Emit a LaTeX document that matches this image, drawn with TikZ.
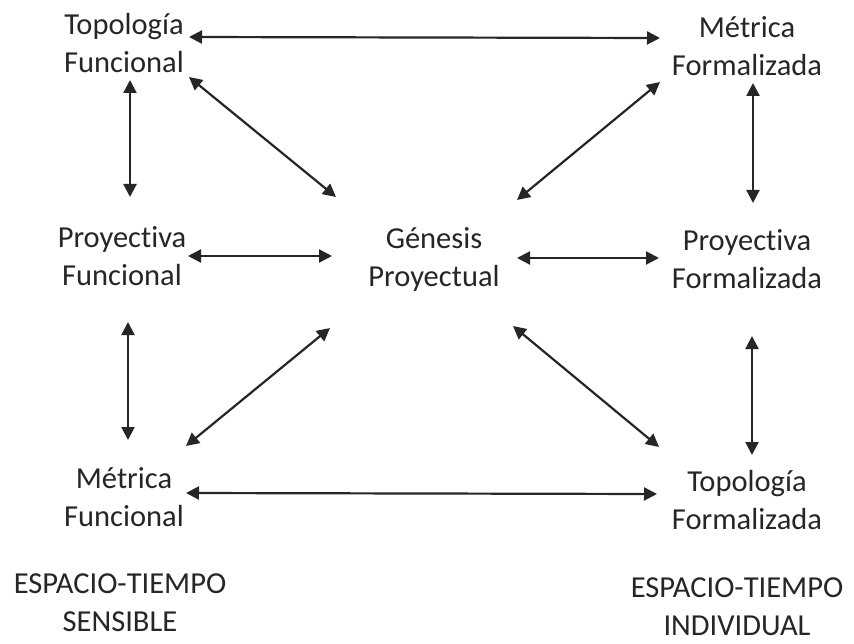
\documentclass[tikz,border=0pt]{standalone}
\usepackage{fontspec}
\setmainfont[Ligatures={NoCommon,NoRare,NoDiscretionary},Contextuals={NoAlternate}]{Carlito}
\usetikzlibrary{arrows.meta}
\definecolor{ink}{HTML}{262626}
\definecolor{txt}{HTML}{262626}
\tikzset{
  lbl/.style={align=center, inner sep=0pt, text=txt, font=\fontsize{30.5}{38}\selectfont},
  link/.style={draw=ink, line width=2.2pt, {Triangle[length=13pt,width=13pt]}-{Triangle[length=13pt,width=13pt]}}
}
\begin{document}
\begin{tikzpicture}[x=1pt,y=-1pt]
\useasboundingbox[fill=white] (0,0) rectangle (854,644);
\node[lbl] (tf)  at (124,43)  {Topología\\Funcional};
\node[lbl] (mfo) at (747,46)  {Métrica\\Formalizada};
\node[lbl] (pf)  at (122,256) {Proyec\kern0pt tiva\\Funcional};
\node[lbl] (gp)  at (434,259) {Génesis\\Proyec\kern0pt tual};
\node[lbl] (pfo) at (747,259) {Proyec\kern0pt tiva\\Formalizada};
\node[lbl] (mf)  at (124,497) {Métrica\\Funcional};
\node[lbl] (tfo) at (747,500) {Topología\\Formalizada};
\node[lbl] (es)  at (120,603) {ESPACIO-TIEMPO\\SENSIBLE};
\node[lbl] (ei)  at (737,607) {ESPACIO-TIEMPO\\INDIVIDUAL};
% arrow ends
\coordinate (a1) at (189,37);  \coordinate (b1) at (660,38);
\coordinate (a2) at (189,77);  \coordinate (b2) at (336,197);
\coordinate (a3) at (130,80);  \coordinate (b3) at (130,197);
\coordinate (a4) at (188,256); \coordinate (b4) at (332,256);
\coordinate (a5) at (660,82);  \coordinate (b5) at (517,200);
\coordinate (a6) at (753,83);  \coordinate (b6) at (753,203);
\coordinate (a7) at (517,258); \coordinate (b7) at (659,258);
\coordinate (a8) at (128,322); \coordinate (b8) at (128,440);
\coordinate (a9) at (186,446); \coordinate (b9) at (330,328);
\coordinate (a10) at (186,493); \coordinate (b10) at (657,494);
\coordinate (a11) at (513,326); \coordinate (b11) at (659,447);
\coordinate (a12) at (752,336); \coordinate (b12) at (752,455);
\foreach \i in {1,...,12} \draw[link] (a\i) -- (b\i);
\end{tikzpicture}
\end{document}
